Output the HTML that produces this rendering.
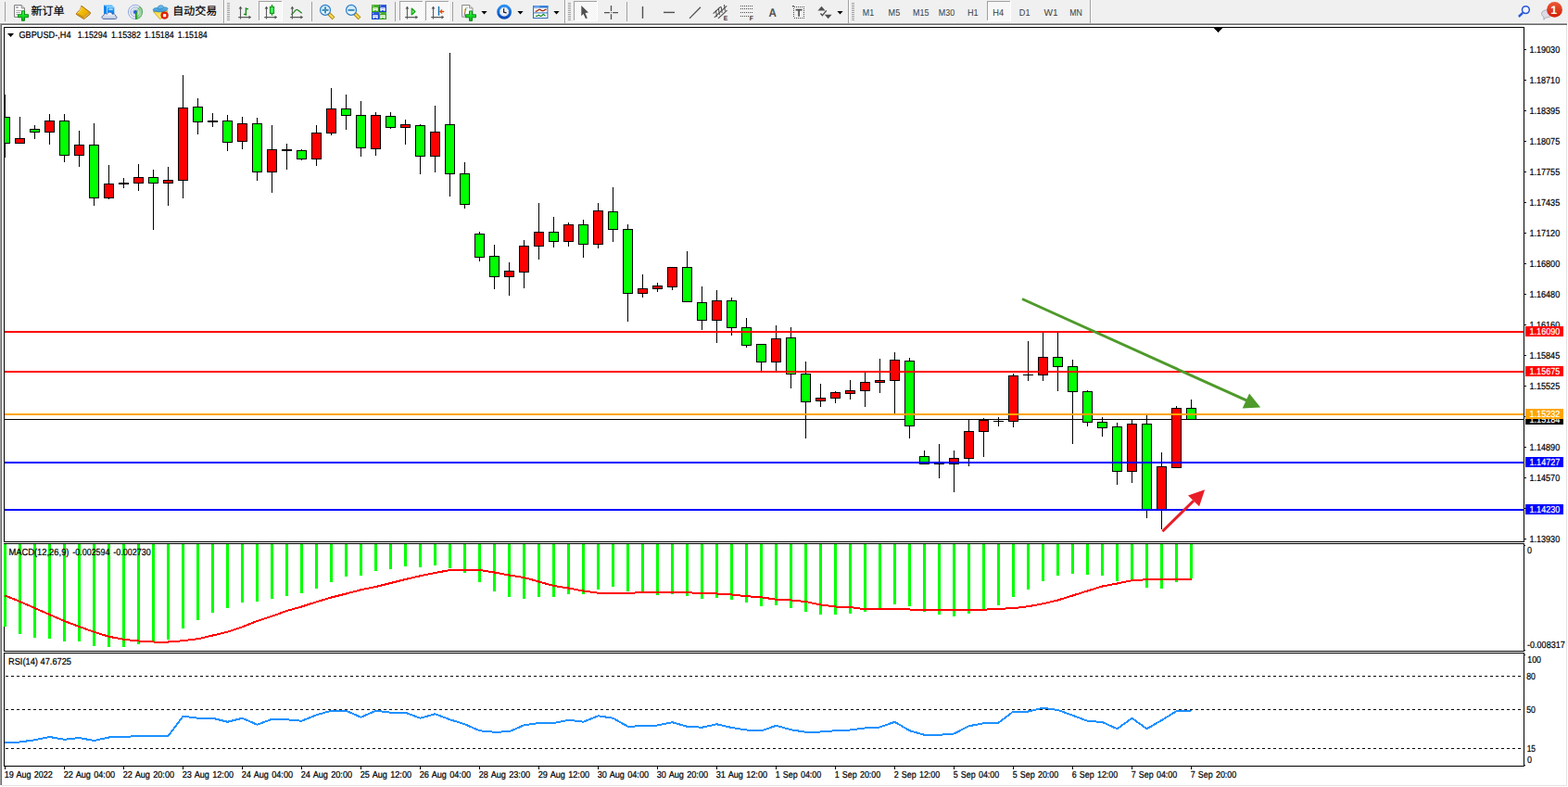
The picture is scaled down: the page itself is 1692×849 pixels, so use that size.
<!DOCTYPE html>
<html><head><meta charset="utf-8"><title>GBPUSD H4</title>
<style>
html,body{margin:0;padding:0;background:#fff;}
body{width:1692px;height:849px;overflow:hidden;font-family:"Liberation Sans",sans-serif;}
svg{display:block;position:absolute;left:0;top:0;}
</style></head><body>
<svg width="1692" height="849" viewBox="0 0 1692 849" text-rendering="geometricPrecision">
<g shape-rendering="crispEdges">
<rect x="0" y="0" width="1692" height="849" fill="#ffffff"/>
<rect x="0" y="0" width="1692" height="25" fill="#f0f0f0"/>
<rect x="0" y="24" width="1692" height="1" fill="#f7f7f7"/>
<rect x="0" y="25" width="1691" height="1" fill="#a0a0a0"/>
<rect x="0" y="26" width="1691" height="1" fill="#696969"/>
<rect x="0" y="25" width="1" height="822" fill="#a0a0a0"/>
<rect x="1" y="26" width="1" height="821" fill="#696969"/>
<rect x="1690" y="27" width="1" height="821" fill="#e3e3e3"/>
<rect x="2" y="847" width="1689" height="1" fill="#e3e3e3"/>
<rect x="4" y="29" width="1641" height="1" fill="#000"/>
<rect x="4" y="584" width="1641" height="1" fill="#000"/>
<rect x="4" y="29" width="1" height="556" fill="#000"/>
<rect x="1644" y="29" width="1" height="556" fill="#000"/>
<rect x="4" y="586" width="1641" height="1" fill="#000"/>
<rect x="4" y="702" width="1641" height="1" fill="#000"/>
<rect x="4" y="586" width="1" height="117" fill="#000"/>
<rect x="1644" y="586" width="1" height="117" fill="#000"/>
<rect x="4" y="704" width="1641" height="1" fill="#000"/>
<rect x="4" y="826" width="1641" height="1" fill="#000"/>
<rect x="4" y="704" width="1" height="123" fill="#000"/>
<rect x="1644" y="704" width="1" height="123" fill="#000"/>
</g>
<g shape-rendering="crispEdges">
<clipPath id="cm"><rect x="5" y="30" width="1639" height="554"/></clipPath>
<g clip-path="url(#cm)">
<rect x="5" y="452" width="1639" height="1" fill="#000"/>
<rect x="5" y="102" width="1" height="68" fill="#000"/>
<rect x="0" y="126" width="11" height="29" fill="#000"/>
<rect x="1" y="127" width="9" height="27" fill="#00ff00"/>
<rect x="21" y="126" width="1" height="29" fill="#000"/>
<rect x="16" y="149" width="11" height="6" fill="#000"/>
<rect x="17" y="150" width="9" height="4" fill="#ff0000"/>
<rect x="37" y="135" width="1" height="15" fill="#000"/>
<rect x="32" y="139" width="11" height="4" fill="#000"/>
<rect x="33" y="140" width="9" height="2" fill="#00ff00"/>
<rect x="53" y="123" width="1" height="33" fill="#000"/>
<rect x="48" y="130" width="11" height="13" fill="#000"/>
<rect x="49" y="131" width="9" height="11" fill="#ff0000"/>
<rect x="69" y="123" width="1" height="52" fill="#000"/>
<rect x="64" y="130" width="11" height="38" fill="#000"/>
<rect x="65" y="131" width="9" height="36" fill="#00ff00"/>
<rect x="85" y="141" width="1" height="39" fill="#000"/>
<rect x="80" y="156" width="11" height="12" fill="#000"/>
<rect x="81" y="157" width="9" height="10" fill="#ff0000"/>
<rect x="101" y="133" width="1" height="89" fill="#000"/>
<rect x="96" y="156" width="11" height="58" fill="#000"/>
<rect x="97" y="157" width="9" height="56" fill="#00ff00"/>
<rect x="117" y="178" width="1" height="37" fill="#000"/>
<rect x="112" y="198" width="11" height="16" fill="#000"/>
<rect x="113" y="199" width="9" height="14" fill="#ff0000"/>
<rect x="133" y="192" width="1" height="11" fill="#000"/>
<rect x="128" y="197" width="11" height="2" fill="#000"/>
<rect x="149" y="177" width="1" height="29" fill="#000"/>
<rect x="144" y="191" width="11" height="7" fill="#000"/>
<rect x="145" y="192" width="9" height="5" fill="#ff0000"/>
<rect x="165" y="183" width="1" height="65" fill="#000"/>
<rect x="160" y="191" width="11" height="7" fill="#000"/>
<rect x="161" y="192" width="9" height="5" fill="#00ff00"/>
<rect x="181" y="180" width="1" height="42" fill="#000"/>
<rect x="176" y="194" width="11" height="4" fill="#000"/>
<rect x="177" y="195" width="9" height="2" fill="#ff0000"/>
<rect x="197" y="81" width="1" height="133" fill="#000"/>
<rect x="192" y="116" width="11" height="79" fill="#000"/>
<rect x="193" y="117" width="9" height="77" fill="#ff0000"/>
<rect x="213" y="106" width="1" height="39" fill="#000"/>
<rect x="208" y="115" width="11" height="17" fill="#000"/>
<rect x="209" y="116" width="9" height="15" fill="#00ff00"/>
<rect x="229" y="122" width="1" height="15" fill="#000"/>
<rect x="224" y="130" width="11" height="2" fill="#000"/>
<rect x="245" y="124" width="1" height="39" fill="#000"/>
<rect x="240" y="130" width="11" height="24" fill="#000"/>
<rect x="241" y="131" width="9" height="22" fill="#00ff00"/>
<rect x="261" y="126" width="1" height="35" fill="#000"/>
<rect x="256" y="133" width="11" height="20" fill="#000"/>
<rect x="257" y="134" width="9" height="18" fill="#ff0000"/>
<rect x="277" y="127" width="1" height="68" fill="#000"/>
<rect x="272" y="133" width="11" height="53" fill="#000"/>
<rect x="273" y="134" width="9" height="51" fill="#00ff00"/>
<rect x="293" y="135" width="1" height="73" fill="#000"/>
<rect x="288" y="161" width="11" height="25" fill="#000"/>
<rect x="289" y="162" width="9" height="23" fill="#ff0000"/>
<rect x="309" y="155" width="1" height="28" fill="#000"/>
<rect x="304" y="161" width="11" height="2" fill="#000"/>
<rect x="325" y="161" width="1" height="12" fill="#000"/>
<rect x="320" y="162" width="11" height="10" fill="#000"/>
<rect x="321" y="163" width="9" height="8" fill="#00ff00"/>
<rect x="341" y="135" width="1" height="44" fill="#000"/>
<rect x="336" y="143" width="11" height="29" fill="#000"/>
<rect x="337" y="144" width="9" height="27" fill="#ff0000"/>
<rect x="357" y="95" width="1" height="51" fill="#000"/>
<rect x="352" y="117" width="11" height="27" fill="#000"/>
<rect x="353" y="118" width="9" height="25" fill="#ff0000"/>
<rect x="373" y="102" width="1" height="38" fill="#000"/>
<rect x="368" y="117" width="11" height="8" fill="#000"/>
<rect x="369" y="118" width="9" height="6" fill="#00ff00"/>
<rect x="389" y="109" width="1" height="60" fill="#000"/>
<rect x="384" y="124" width="11" height="36" fill="#000"/>
<rect x="385" y="125" width="9" height="34" fill="#00ff00"/>
<rect x="405" y="121" width="1" height="47" fill="#000"/>
<rect x="400" y="124" width="11" height="37" fill="#000"/>
<rect x="401" y="125" width="9" height="35" fill="#ff0000"/>
<rect x="421" y="121" width="1" height="18" fill="#000"/>
<rect x="416" y="125" width="11" height="13" fill="#000"/>
<rect x="417" y="126" width="9" height="11" fill="#00ff00"/>
<rect x="437" y="129" width="1" height="27" fill="#000"/>
<rect x="432" y="134" width="11" height="4" fill="#000"/>
<rect x="433" y="135" width="9" height="2" fill="#ff0000"/>
<rect x="453" y="134" width="1" height="54" fill="#000"/>
<rect x="448" y="135" width="11" height="34" fill="#000"/>
<rect x="449" y="136" width="9" height="32" fill="#00ff00"/>
<rect x="469" y="114" width="1" height="72" fill="#000"/>
<rect x="464" y="142" width="11" height="27" fill="#000"/>
<rect x="465" y="143" width="9" height="25" fill="#ff0000"/>
<rect x="485" y="57" width="1" height="155" fill="#000"/>
<rect x="480" y="134" width="11" height="54" fill="#000"/>
<rect x="481" y="135" width="9" height="52" fill="#00ff00"/>
<rect x="501" y="175" width="1" height="50" fill="#000"/>
<rect x="496" y="187" width="11" height="34" fill="#000"/>
<rect x="497" y="188" width="9" height="32" fill="#00ff00"/>
<rect x="517" y="250" width="1" height="32" fill="#000"/>
<rect x="512" y="252" width="11" height="26" fill="#000"/>
<rect x="513" y="253" width="9" height="24" fill="#00ff00"/>
<rect x="533" y="264" width="1" height="48" fill="#000"/>
<rect x="528" y="276" width="11" height="23" fill="#000"/>
<rect x="529" y="277" width="9" height="21" fill="#00ff00"/>
<rect x="549" y="283" width="1" height="36" fill="#000"/>
<rect x="544" y="292" width="11" height="7" fill="#000"/>
<rect x="545" y="293" width="9" height="5" fill="#ff0000"/>
<rect x="565" y="259" width="1" height="52" fill="#000"/>
<rect x="560" y="265" width="11" height="29" fill="#000"/>
<rect x="561" y="266" width="9" height="27" fill="#ff0000"/>
<rect x="581" y="219" width="1" height="61" fill="#000"/>
<rect x="576" y="250" width="11" height="16" fill="#000"/>
<rect x="577" y="251" width="9" height="14" fill="#ff0000"/>
<rect x="597" y="234" width="1" height="33" fill="#000"/>
<rect x="592" y="250" width="11" height="11" fill="#000"/>
<rect x="593" y="251" width="9" height="9" fill="#00ff00"/>
<rect x="613" y="240" width="1" height="26" fill="#000"/>
<rect x="608" y="242" width="11" height="19" fill="#000"/>
<rect x="609" y="243" width="9" height="17" fill="#ff0000"/>
<rect x="629" y="237" width="1" height="41" fill="#000"/>
<rect x="624" y="242" width="11" height="22" fill="#000"/>
<rect x="625" y="243" width="9" height="20" fill="#00ff00"/>
<rect x="645" y="219" width="1" height="49" fill="#000"/>
<rect x="640" y="227" width="11" height="37" fill="#000"/>
<rect x="641" y="228" width="9" height="35" fill="#ff0000"/>
<rect x="661" y="202" width="1" height="59" fill="#000"/>
<rect x="656" y="228" width="11" height="20" fill="#000"/>
<rect x="657" y="229" width="9" height="18" fill="#00ff00"/>
<rect x="677" y="242" width="1" height="105" fill="#000"/>
<rect x="672" y="247" width="11" height="70" fill="#000"/>
<rect x="673" y="248" width="9" height="68" fill="#00ff00"/>
<rect x="693" y="296" width="1" height="25" fill="#000"/>
<rect x="688" y="311" width="11" height="6" fill="#000"/>
<rect x="689" y="312" width="9" height="4" fill="#ff0000"/>
<rect x="709" y="305" width="1" height="10" fill="#000"/>
<rect x="704" y="308" width="11" height="4" fill="#000"/>
<rect x="705" y="309" width="9" height="2" fill="#ff0000"/>
<rect x="725" y="288" width="1" height="25" fill="#000"/>
<rect x="720" y="288" width="11" height="22" fill="#000"/>
<rect x="721" y="289" width="9" height="20" fill="#ff0000"/>
<rect x="741" y="271" width="1" height="55" fill="#000"/>
<rect x="736" y="288" width="11" height="38" fill="#000"/>
<rect x="737" y="289" width="9" height="36" fill="#00ff00"/>
<rect x="757" y="309" width="1" height="47" fill="#000"/>
<rect x="752" y="326" width="11" height="20" fill="#000"/>
<rect x="753" y="327" width="9" height="18" fill="#00ff00"/>
<rect x="773" y="313" width="1" height="57" fill="#000"/>
<rect x="768" y="324" width="11" height="22" fill="#000"/>
<rect x="769" y="325" width="9" height="20" fill="#ff0000"/>
<rect x="789" y="321" width="1" height="41" fill="#000"/>
<rect x="784" y="324" width="11" height="30" fill="#000"/>
<rect x="785" y="325" width="9" height="28" fill="#00ff00"/>
<rect x="805" y="343" width="1" height="32" fill="#000"/>
<rect x="800" y="353" width="11" height="20" fill="#000"/>
<rect x="801" y="354" width="9" height="18" fill="#00ff00"/>
<rect x="821" y="371" width="1" height="29" fill="#000"/>
<rect x="816" y="371" width="11" height="20" fill="#000"/>
<rect x="817" y="372" width="9" height="18" fill="#00ff00"/>
<rect x="837" y="351" width="1" height="49" fill="#000"/>
<rect x="832" y="365" width="11" height="26" fill="#000"/>
<rect x="833" y="366" width="9" height="24" fill="#ff0000"/>
<rect x="853" y="353" width="1" height="66" fill="#000"/>
<rect x="848" y="364" width="11" height="40" fill="#000"/>
<rect x="849" y="365" width="9" height="38" fill="#00ff00"/>
<rect x="869" y="390" width="1" height="83" fill="#000"/>
<rect x="864" y="403" width="11" height="31" fill="#000"/>
<rect x="865" y="404" width="9" height="29" fill="#00ff00"/>
<rect x="885" y="414" width="1" height="25" fill="#000"/>
<rect x="880" y="429" width="11" height="4" fill="#000"/>
<rect x="881" y="430" width="9" height="2" fill="#ff0000"/>
<rect x="901" y="422" width="1" height="13" fill="#000"/>
<rect x="896" y="423" width="11" height="7" fill="#000"/>
<rect x="897" y="424" width="9" height="5" fill="#ff0000"/>
<rect x="917" y="410" width="1" height="21" fill="#000"/>
<rect x="912" y="421" width="11" height="4" fill="#000"/>
<rect x="913" y="422" width="9" height="2" fill="#ff0000"/>
<rect x="933" y="402" width="1" height="37" fill="#000"/>
<rect x="928" y="412" width="11" height="10" fill="#000"/>
<rect x="929" y="413" width="9" height="8" fill="#ff0000"/>
<rect x="949" y="387" width="1" height="37" fill="#000"/>
<rect x="944" y="410" width="11" height="3" fill="#000"/>
<rect x="945" y="411" width="9" height="1" fill="#ff0000"/>
<rect x="965" y="380" width="1" height="66" fill="#000"/>
<rect x="960" y="388" width="11" height="23" fill="#000"/>
<rect x="961" y="389" width="9" height="21" fill="#ff0000"/>
<rect x="981" y="386" width="1" height="87" fill="#000"/>
<rect x="976" y="389" width="11" height="71" fill="#000"/>
<rect x="977" y="390" width="9" height="69" fill="#00ff00"/>
<rect x="997" y="486" width="1" height="15" fill="#000"/>
<rect x="992" y="492" width="11" height="9" fill="#000"/>
<rect x="993" y="493" width="9" height="7" fill="#00ff00"/>
<rect x="1013" y="479" width="1" height="37" fill="#000"/>
<rect x="1008" y="500" width="11" height="1" fill="#000"/>
<rect x="1029" y="486" width="1" height="45" fill="#000"/>
<rect x="1024" y="494" width="11" height="7" fill="#000"/>
<rect x="1025" y="495" width="9" height="5" fill="#ff0000"/>
<rect x="1045" y="453" width="1" height="50" fill="#000"/>
<rect x="1040" y="465" width="11" height="30" fill="#000"/>
<rect x="1041" y="466" width="9" height="28" fill="#ff0000"/>
<rect x="1061" y="451" width="1" height="42" fill="#000"/>
<rect x="1056" y="453" width="11" height="13" fill="#000"/>
<rect x="1057" y="454" width="9" height="11" fill="#ff0000"/>
<rect x="1077" y="450" width="1" height="10" fill="#000"/>
<rect x="1072" y="454" width="11" height="1" fill="#000"/>
<rect x="1093" y="403" width="1" height="58" fill="#000"/>
<rect x="1088" y="405" width="11" height="50" fill="#000"/>
<rect x="1089" y="406" width="9" height="48" fill="#ff0000"/>
<rect x="1109" y="368" width="1" height="43" fill="#000"/>
<rect x="1104" y="404" width="11" height="1" fill="#000"/>
<rect x="1125" y="359" width="1" height="52" fill="#000"/>
<rect x="1120" y="385" width="11" height="20" fill="#000"/>
<rect x="1121" y="386" width="9" height="18" fill="#ff0000"/>
<rect x="1141" y="359" width="1" height="63" fill="#000"/>
<rect x="1136" y="385" width="11" height="11" fill="#000"/>
<rect x="1137" y="386" width="9" height="9" fill="#00ff00"/>
<rect x="1157" y="388" width="1" height="91" fill="#000"/>
<rect x="1152" y="395" width="11" height="28" fill="#000"/>
<rect x="1153" y="396" width="9" height="26" fill="#00ff00"/>
<rect x="1173" y="421" width="1" height="39" fill="#000"/>
<rect x="1168" y="422" width="11" height="34" fill="#000"/>
<rect x="1169" y="423" width="9" height="32" fill="#00ff00"/>
<rect x="1189" y="450" width="1" height="21" fill="#000"/>
<rect x="1184" y="455" width="11" height="7" fill="#000"/>
<rect x="1185" y="456" width="9" height="5" fill="#00ff00"/>
<rect x="1205" y="456" width="1" height="67" fill="#000"/>
<rect x="1200" y="460" width="11" height="49" fill="#000"/>
<rect x="1201" y="461" width="9" height="47" fill="#00ff00"/>
<rect x="1221" y="452" width="1" height="69" fill="#000"/>
<rect x="1216" y="457" width="11" height="52" fill="#000"/>
<rect x="1217" y="458" width="9" height="50" fill="#ff0000"/>
<rect x="1237" y="447" width="1" height="112" fill="#000"/>
<rect x="1232" y="457" width="11" height="93" fill="#000"/>
<rect x="1233" y="458" width="9" height="91" fill="#00ff00"/>
<rect x="1253" y="488" width="1" height="83" fill="#000"/>
<rect x="1248" y="503" width="11" height="47" fill="#000"/>
<rect x="1249" y="504" width="9" height="45" fill="#ff0000"/>
<rect x="1269" y="438" width="1" height="67" fill="#000"/>
<rect x="1264" y="440" width="11" height="65" fill="#000"/>
<rect x="1265" y="441" width="9" height="63" fill="#ff0000"/>
<rect x="1285" y="431" width="1" height="22" fill="#000"/>
<rect x="1280" y="440" width="11" height="13" fill="#000"/>
<rect x="1281" y="441" width="9" height="11" fill="#00ff00"/>
<rect x="5" y="357" width="1639" height="2" fill="#ff0000"/>
<rect x="5" y="400" width="1639" height="2" fill="#ff0000"/>
<rect x="5" y="446" width="1639" height="2" fill="#ffa500"/>
<rect x="5" y="498" width="1639" height="2" fill="#0000ff"/>
<rect x="5" y="549" width="1639" height="2" fill="#0000ff"/>
</g>
<path d="M1310 30H1319L1314.5 35Z" fill="#000"/>
</g>
<line x1="1103" y1="322.5" x2="1345.5" y2="432.2" stroke="#4e9a2a" stroke-width="3"/>
<path d="M1360.2 439.4L1348.1 424.4L1340.7 440.4Z" fill="#4e9a2a"/>
<line x1="1254.4" y1="573.2" x2="1288" y2="540.2" stroke="#e81e28" stroke-width="3"/>
<path d="M1300.1 528.2L1282 534.6L1294.1 546.2Z" fill="#e81e28"/>
<g shape-rendering="crispEdges">
<rect x="4" y="587" width="3" height="89" fill="#00ff00"/>
<rect x="20" y="587" width="3" height="97" fill="#00ff00"/>
<rect x="36" y="587" width="3" height="101" fill="#00ff00"/>
<rect x="52" y="587" width="3" height="102" fill="#00ff00"/>
<rect x="68" y="587" width="3" height="105" fill="#00ff00"/>
<rect x="84" y="587" width="3" height="105" fill="#00ff00"/>
<rect x="100" y="587" width="3" height="110" fill="#00ff00"/>
<rect x="116" y="587" width="3" height="111" fill="#00ff00"/>
<rect x="132" y="587" width="3" height="111" fill="#00ff00"/>
<rect x="148" y="587" width="3" height="108" fill="#00ff00"/>
<rect x="164" y="587" width="3" height="105" fill="#00ff00"/>
<rect x="180" y="587" width="3" height="103" fill="#00ff00"/>
<rect x="196" y="587" width="3" height="91" fill="#00ff00"/>
<rect x="212" y="587" width="3" height="82" fill="#00ff00"/>
<rect x="228" y="587" width="3" height="74" fill="#00ff00"/>
<rect x="244" y="587" width="3" height="69" fill="#00ff00"/>
<rect x="260" y="587" width="3" height="63" fill="#00ff00"/>
<rect x="276" y="587" width="3" height="62" fill="#00ff00"/>
<rect x="292" y="587" width="3" height="59" fill="#00ff00"/>
<rect x="308" y="587" width="3" height="56" fill="#00ff00"/>
<rect x="324" y="587" width="3" height="53" fill="#00ff00"/>
<rect x="340" y="587" width="3" height="48" fill="#00ff00"/>
<rect x="356" y="587" width="3" height="41" fill="#00ff00"/>
<rect x="372" y="587" width="3" height="35" fill="#00ff00"/>
<rect x="388" y="587" width="3" height="34" fill="#00ff00"/>
<rect x="404" y="587" width="3" height="29" fill="#00ff00"/>
<rect x="420" y="587" width="3" height="27" fill="#00ff00"/>
<rect x="436" y="587" width="3" height="24" fill="#00ff00"/>
<rect x="452" y="587" width="3" height="25" fill="#00ff00"/>
<rect x="468" y="587" width="3" height="23" fill="#00ff00"/>
<rect x="484" y="587" width="3" height="26" fill="#00ff00"/>
<rect x="500" y="587" width="3" height="31" fill="#00ff00"/>
<rect x="516" y="587" width="3" height="41" fill="#00ff00"/>
<rect x="532" y="587" width="3" height="51" fill="#00ff00"/>
<rect x="548" y="587" width="3" height="57" fill="#00ff00"/>
<rect x="564" y="587" width="3" height="59" fill="#00ff00"/>
<rect x="580" y="587" width="3" height="57" fill="#00ff00"/>
<rect x="596" y="587" width="3" height="57" fill="#00ff00"/>
<rect x="612" y="587" width="3" height="54" fill="#00ff00"/>
<rect x="628" y="587" width="3" height="54" fill="#00ff00"/>
<rect x="644" y="587" width="3" height="49" fill="#00ff00"/>
<rect x="660" y="587" width="3" height="46" fill="#00ff00"/>
<rect x="676" y="587" width="3" height="51" fill="#00ff00"/>
<rect x="692" y="587" width="3" height="53" fill="#00ff00"/>
<rect x="708" y="587" width="3" height="55" fill="#00ff00"/>
<rect x="724" y="587" width="3" height="54" fill="#00ff00"/>
<rect x="740" y="587" width="3" height="56" fill="#00ff00"/>
<rect x="756" y="587" width="3" height="59" fill="#00ff00"/>
<rect x="772" y="587" width="3" height="58" fill="#00ff00"/>
<rect x="788" y="587" width="3" height="60" fill="#00ff00"/>
<rect x="804" y="587" width="3" height="63" fill="#00ff00"/>
<rect x="820" y="587" width="3" height="67" fill="#00ff00"/>
<rect x="836" y="587" width="3" height="66" fill="#00ff00"/>
<rect x="852" y="587" width="3" height="69" fill="#00ff00"/>
<rect x="868" y="587" width="3" height="73" fill="#00ff00"/>
<rect x="884" y="587" width="3" height="76" fill="#00ff00"/>
<rect x="900" y="587" width="3" height="76" fill="#00ff00"/>
<rect x="916" y="587" width="3" height="75" fill="#00ff00"/>
<rect x="932" y="587" width="3" height="73" fill="#00ff00"/>
<rect x="948" y="587" width="3" height="70" fill="#00ff00"/>
<rect x="964" y="587" width="3" height="65" fill="#00ff00"/>
<rect x="980" y="587" width="3" height="67" fill="#00ff00"/>
<rect x="996" y="587" width="3" height="73" fill="#00ff00"/>
<rect x="1012" y="587" width="3" height="76" fill="#00ff00"/>
<rect x="1028" y="587" width="3" height="78" fill="#00ff00"/>
<rect x="1044" y="587" width="3" height="75" fill="#00ff00"/>
<rect x="1060" y="587" width="3" height="70" fill="#00ff00"/>
<rect x="1076" y="587" width="3" height="66" fill="#00ff00"/>
<rect x="1092" y="587" width="3" height="57" fill="#00ff00"/>
<rect x="1108" y="587" width="3" height="49" fill="#00ff00"/>
<rect x="1124" y="587" width="3" height="40" fill="#00ff00"/>
<rect x="1140" y="587" width="3" height="34" fill="#00ff00"/>
<rect x="1156" y="587" width="3" height="32" fill="#00ff00"/>
<rect x="1172" y="587" width="3" height="33" fill="#00ff00"/>
<rect x="1188" y="587" width="3" height="34" fill="#00ff00"/>
<rect x="1204" y="587" width="3" height="40" fill="#00ff00"/>
<rect x="1220" y="587" width="3" height="38" fill="#00ff00"/>
<rect x="1236" y="587" width="3" height="47" fill="#00ff00"/>
<rect x="1252" y="587" width="3" height="48" fill="#00ff00"/>
<rect x="1268" y="587" width="3" height="41" fill="#00ff00"/>
<rect x="1284" y="587" width="3" height="37" fill="#00ff00"/>
</g>
<polyline points="5.5,642.5 21.5,649 37.5,656 53.5,663 69.5,670 85.5,676 101.5,681.75 117.5,686.75 133.5,689.75 149.5,691.5 165.5,692.5 181.5,692.5 197.5,691.25 213.5,689.25 229.5,685.5 245.5,681.75 261.5,676.25 277.5,670 293.5,664.75 309.5,659 325.5,654.5 341.5,649.25 357.5,644.5 373.5,640.5 389.5,636.25 405.5,633 421.5,629 437.5,625 453.5,621.25 469.5,618 485.5,615 501.5,615 517.5,615 533.5,617.5 549.5,620.5 565.5,623 581.5,627.5 597.5,632 613.5,634.5 629.5,637.5 645.5,639.75 661.5,639.75 677.5,639.75 693.5,639.25 709.5,639.25 725.5,639.25 741.5,639.25 757.5,640 773.5,640.5 789.5,641.5 805.5,643.25 821.5,644.25 837.5,646.75 853.5,647.5 869.5,649 885.5,652.5 901.5,654.5 917.5,655 933.5,657.25 949.5,657.25 965.5,656.75 981.5,657.5 997.5,657.75 1013.5,657.75 1029.5,657.75 1045.5,657.75 1061.5,657.75 1077.5,656.75 1093.5,656.25 1109.5,654.25 1125.5,651.25 1141.5,647.5 1157.5,642.5 1173.5,637.5 1189.5,632.5 1205.5,629.5 1221.5,626.25 1237.5,625.25 1253.5,625.25 1269.5,625.25 1285.5,625.25" fill="none" stroke="#ff0000" stroke-width="2" stroke-linejoin="round" shape-rendering="crispEdges"/>
<g shape-rendering="crispEdges">
<line x1="6" y1="729.5" x2="1644" y2="729.5" stroke="#000" stroke-width="1" stroke-dasharray="3 3"/>
<line x1="6" y1="765.5" x2="1644" y2="765.5" stroke="#000" stroke-width="1" stroke-dasharray="3 3"/>
<line x1="6" y1="807.5" x2="1644" y2="807.5" stroke="#000" stroke-width="1" stroke-dasharray="3 3"/>
</g>
<polyline points="5.5,801 21.5,800.5 37.5,798.25 53.5,795 69.5,797.75 85.5,796 101.5,799 117.5,795.5 133.5,795 149.5,794 165.5,794 181.5,794 197.5,772.75 213.5,774.75 229.5,774.75 245.5,778.75 261.5,774.75 277.5,781.75 293.5,775.75 309.5,776.25 325.5,777.75 341.5,771.25 357.5,766.75 373.5,766.75 389.5,773.75 405.5,766.75 421.5,768.75 437.5,768.75 453.5,774.75 469.5,770.25 485.5,776.25 501.5,781.25 517.5,788.25 533.5,789.75 549.5,789.25 565.5,782.25 581.5,780 597.5,780 613.5,776.75 629.5,778.75 645.5,772.25 661.5,774.75 677.5,783.75 693.5,783.25 709.5,782.5 725.5,779.25 741.5,783.75 757.5,784.75 773.5,781.25 789.5,785 805.5,787.5 821.5,788.5 837.5,782.75 853.5,787.25 869.5,789.75 885.5,789.5 901.5,788.25 917.5,787.5 933.5,785.5 949.5,784.5 965.5,778.75 981.5,788.25 997.5,792.75 1013.5,792.75 1029.5,791.5 1045.5,783.25 1061.5,780.25 1077.5,779.75 1093.5,767.5 1109.5,767.5 1125.5,763.75 1141.5,766 1157.5,771.75 1173.5,777.75 1189.5,779 1205.5,786.25 1221.5,774.75 1237.5,786.25 1253.5,777 1269.5,767.25 1285.5,767.5" fill="none" stroke="#1e90ff" stroke-width="2" stroke-linejoin="round" shape-rendering="crispEdges"/>
<g shape-rendering="crispEdges">
<rect x="1645" y="53" width="2" height="1" fill="#000"/>
<rect x="1645" y="86" width="2" height="1" fill="#000"/>
<rect x="1645" y="119" width="2" height="1" fill="#000"/>
<rect x="1645" y="152" width="2" height="1" fill="#000"/>
<rect x="1645" y="185" width="2" height="1" fill="#000"/>
<rect x="1645" y="218" width="2" height="1" fill="#000"/>
<rect x="1645" y="251" width="2" height="1" fill="#000"/>
<rect x="1645" y="284" width="2" height="1" fill="#000"/>
<rect x="1645" y="317" width="2" height="1" fill="#000"/>
<rect x="1645" y="350" width="2" height="1" fill="#000"/>
<rect x="1645" y="383" width="2" height="1" fill="#000"/>
<rect x="1645" y="416" width="2" height="1" fill="#000"/>
<rect x="1645" y="449" width="2" height="1" fill="#000"/>
<rect x="1645" y="482" width="2" height="1" fill="#000"/>
<rect x="1645" y="515" width="2" height="1" fill="#000"/>
<rect x="1645" y="548" width="2" height="1" fill="#000"/>
<rect x="1645" y="581" width="2" height="1" fill="#000"/>
<rect x="5" y="827" width="1" height="3" fill="#000"/>
<rect x="69" y="827" width="1" height="3" fill="#000"/>
<rect x="133" y="827" width="1" height="3" fill="#000"/>
<rect x="197" y="827" width="1" height="3" fill="#000"/>
<rect x="261" y="827" width="1" height="3" fill="#000"/>
<rect x="325" y="827" width="1" height="3" fill="#000"/>
<rect x="389" y="827" width="1" height="3" fill="#000"/>
<rect x="453" y="827" width="1" height="3" fill="#000"/>
<rect x="517" y="827" width="1" height="3" fill="#000"/>
<rect x="581" y="827" width="1" height="3" fill="#000"/>
<rect x="645" y="827" width="1" height="3" fill="#000"/>
<rect x="709" y="827" width="1" height="3" fill="#000"/>
<rect x="773" y="827" width="1" height="3" fill="#000"/>
<rect x="837" y="827" width="1" height="3" fill="#000"/>
<rect x="901" y="827" width="1" height="3" fill="#000"/>
<rect x="965" y="827" width="1" height="3" fill="#000"/>
<rect x="1029" y="827" width="1" height="3" fill="#000"/>
<rect x="1093" y="827" width="1" height="3" fill="#000"/>
<rect x="1157" y="827" width="1" height="3" fill="#000"/>
<rect x="1221" y="827" width="1" height="3" fill="#000"/>
<rect x="1285" y="827" width="1" height="3" fill="#000"/>
<rect x="1645" y="825" width="1" height="1" fill="#000"/>
<rect x="1645" y="588" width="1" height="1" fill="#000"/>
<rect x="1645" y="701" width="1" height="1" fill="#000"/>
<rect x="1645" y="706" width="1" height="1" fill="#000"/>
</g>
<g font-family="Liberation Sans, sans-serif">
<text x="1650.4" y="57" font-size="10.2" fill="#000" stroke="#000" stroke-width="0.22" text-anchor="start" textLength="32.8" lengthAdjust="spacingAndGlyphs">1.19030</text>
<text x="1650.4" y="90" font-size="10.2" fill="#000" stroke="#000" stroke-width="0.22" text-anchor="start" textLength="32.8" lengthAdjust="spacingAndGlyphs">1.18710</text>
<text x="1650.4" y="123" font-size="10.2" fill="#000" stroke="#000" stroke-width="0.22" text-anchor="start" textLength="32.8" lengthAdjust="spacingAndGlyphs">1.18395</text>
<text x="1650.4" y="156" font-size="10.2" fill="#000" stroke="#000" stroke-width="0.22" text-anchor="start" textLength="32.8" lengthAdjust="spacingAndGlyphs">1.18075</text>
<text x="1650.4" y="189" font-size="10.2" fill="#000" stroke="#000" stroke-width="0.22" text-anchor="start" textLength="32.8" lengthAdjust="spacingAndGlyphs">1.17755</text>
<text x="1650.4" y="222" font-size="10.2" fill="#000" stroke="#000" stroke-width="0.22" text-anchor="start" textLength="32.8" lengthAdjust="spacingAndGlyphs">1.17435</text>
<text x="1650.4" y="255" font-size="10.2" fill="#000" stroke="#000" stroke-width="0.22" text-anchor="start" textLength="32.8" lengthAdjust="spacingAndGlyphs">1.17120</text>
<text x="1650.4" y="288" font-size="10.2" fill="#000" stroke="#000" stroke-width="0.22" text-anchor="start" textLength="32.8" lengthAdjust="spacingAndGlyphs">1.16800</text>
<text x="1650.4" y="321" font-size="10.2" fill="#000" stroke="#000" stroke-width="0.22" text-anchor="start" textLength="32.8" lengthAdjust="spacingAndGlyphs">1.16480</text>
<text x="1650.4" y="354" font-size="10.2" fill="#000" stroke="#000" stroke-width="0.22" text-anchor="start" textLength="32.8" lengthAdjust="spacingAndGlyphs">1.16160</text>
<text x="1650.4" y="387" font-size="10.2" fill="#000" stroke="#000" stroke-width="0.22" text-anchor="start" textLength="32.8" lengthAdjust="spacingAndGlyphs">1.15845</text>
<text x="1650.4" y="420" font-size="10.2" fill="#000" stroke="#000" stroke-width="0.22" text-anchor="start" textLength="32.8" lengthAdjust="spacingAndGlyphs">1.15525</text>
<text x="1650.4" y="453" font-size="10.2" fill="#000" stroke="#000" stroke-width="0.22" text-anchor="start" textLength="32.8" lengthAdjust="spacingAndGlyphs">1.15205</text>
<text x="1650.4" y="486" font-size="10.2" fill="#000" stroke="#000" stroke-width="0.22" text-anchor="start" textLength="32.8" lengthAdjust="spacingAndGlyphs">1.14890</text>
<text x="1650.4" y="519" font-size="10.2" fill="#000" stroke="#000" stroke-width="0.22" text-anchor="start" textLength="32.8" lengthAdjust="spacingAndGlyphs">1.14570</text>
<text x="1650.4" y="552" font-size="10.2" fill="#000" stroke="#000" stroke-width="0.22" text-anchor="start" textLength="32.8" lengthAdjust="spacingAndGlyphs">1.14250</text>
<text x="1650.4" y="585" font-size="10.2" fill="#000" stroke="#000" stroke-width="0.22" text-anchor="start" textLength="32.8" lengthAdjust="spacingAndGlyphs">1.13930</text>
<rect x="1646" y="447" width="41" height="11" fill="#000" shape-rendering="crispEdges"/>
<text x="1650.6" y="456" font-size="10.2" fill="#fff" stroke="#fff" stroke-width="0.22" text-anchor="start" textLength="32.6" lengthAdjust="spacingAndGlyphs">1.15184</text>
<rect x="1646" y="352" width="41" height="11" fill="#ff0000" shape-rendering="crispEdges"/>
<text x="1650.6" y="361" font-size="10.2" fill="#fff" stroke="#fff" stroke-width="0.22" text-anchor="start" textLength="32.6" lengthAdjust="spacingAndGlyphs">1.16090</text>
<rect x="1646" y="395" width="41" height="11" fill="#ff0000" shape-rendering="crispEdges"/>
<text x="1650.6" y="404" font-size="10.2" fill="#fff" stroke="#fff" stroke-width="0.22" text-anchor="start" textLength="32.6" lengthAdjust="spacingAndGlyphs">1.15675</text>
<rect x="1646" y="441" width="41" height="11" fill="#ffa500" shape-rendering="crispEdges"/>
<text x="1650.6" y="450" font-size="10.2" fill="#fff" stroke="#fff" stroke-width="0.22" text-anchor="start" textLength="32.6" lengthAdjust="spacingAndGlyphs">1.15232</text>
<rect x="1646" y="493" width="41" height="11" fill="#0000ff" shape-rendering="crispEdges"/>
<text x="1650.6" y="502" font-size="10.2" fill="#fff" stroke="#fff" stroke-width="0.22" text-anchor="start" textLength="32.6" lengthAdjust="spacingAndGlyphs">1.14727</text>
<rect x="1646" y="544" width="41" height="11" fill="#0000ff" shape-rendering="crispEdges"/>
<text x="1650.6" y="553" font-size="10.2" fill="#fff" stroke="#fff" stroke-width="0.22" text-anchor="start" textLength="32.6" lengthAdjust="spacingAndGlyphs">1.14230</text>
<text x="1648" y="597" font-size="10.2" fill="#000" stroke="#000" stroke-width="0.22" text-anchor="start" textLength="5" lengthAdjust="spacingAndGlyphs">0</text>
<text x="1648" y="699" font-size="10.2" fill="#000" stroke="#000" stroke-width="0.22" text-anchor="start" textLength="40.8" lengthAdjust="spacingAndGlyphs">-0.008317</text>
<text x="1648.3" y="715" font-size="10.2" fill="#000" stroke="#000" stroke-width="0.22" text-anchor="start" textLength="14.7" lengthAdjust="spacingAndGlyphs">100</text>
<text x="1647.2" y="733" font-size="10.2" fill="#000" stroke="#000" stroke-width="0.22" text-anchor="start" textLength="9.7" lengthAdjust="spacingAndGlyphs">80</text>
<text x="1647.2" y="769" font-size="10.2" fill="#000" stroke="#000" stroke-width="0.22" text-anchor="start" textLength="9.7" lengthAdjust="spacingAndGlyphs">50</text>
<text x="1647.7" y="811" font-size="10.2" fill="#000" stroke="#000" stroke-width="0.22" text-anchor="start" textLength="9.3" lengthAdjust="spacingAndGlyphs">15</text>
<text x="1648" y="823" font-size="10.2" fill="#000" stroke="#000" stroke-width="0.22" text-anchor="start" textLength="5" lengthAdjust="spacingAndGlyphs">0</text>
<text x="4.7" y="839" font-size="10.2" fill="#000" stroke="#000" stroke-width="0.22" text-anchor="start" textLength="52.2" lengthAdjust="spacingAndGlyphs" word-spacing="0.8">19 Aug 2022</text>
<text x="68.7" y="839" font-size="10.2" fill="#000" stroke="#000" stroke-width="0.22" text-anchor="start" textLength="55.4" lengthAdjust="spacingAndGlyphs" word-spacing="0.8">22 Aug 04:00</text>
<text x="132.7" y="839" font-size="10.2" fill="#000" stroke="#000" stroke-width="0.22" text-anchor="start" textLength="55.4" lengthAdjust="spacingAndGlyphs" word-spacing="0.8">22 Aug 20:00</text>
<text x="196.7" y="839" font-size="10.2" fill="#000" stroke="#000" stroke-width="0.22" text-anchor="start" textLength="55.4" lengthAdjust="spacingAndGlyphs" word-spacing="0.8">23 Aug 12:00</text>
<text x="260.7" y="839" font-size="10.2" fill="#000" stroke="#000" stroke-width="0.22" text-anchor="start" textLength="55.4" lengthAdjust="spacingAndGlyphs" word-spacing="0.8">24 Aug 04:00</text>
<text x="324.7" y="839" font-size="10.2" fill="#000" stroke="#000" stroke-width="0.22" text-anchor="start" textLength="55.4" lengthAdjust="spacingAndGlyphs" word-spacing="0.8">24 Aug 20:00</text>
<text x="388.7" y="839" font-size="10.2" fill="#000" stroke="#000" stroke-width="0.22" text-anchor="start" textLength="55.4" lengthAdjust="spacingAndGlyphs" word-spacing="0.8">25 Aug 12:00</text>
<text x="452.7" y="839" font-size="10.2" fill="#000" stroke="#000" stroke-width="0.22" text-anchor="start" textLength="55.4" lengthAdjust="spacingAndGlyphs" word-spacing="0.8">26 Aug 04:00</text>
<text x="516.7" y="839" font-size="10.2" fill="#000" stroke="#000" stroke-width="0.22" text-anchor="start" textLength="55.4" lengthAdjust="spacingAndGlyphs" word-spacing="0.8">28 Aug 23:00</text>
<text x="580.7" y="839" font-size="10.2" fill="#000" stroke="#000" stroke-width="0.22" text-anchor="start" textLength="55.4" lengthAdjust="spacingAndGlyphs" word-spacing="0.8">29 Aug 12:00</text>
<text x="644.7" y="839" font-size="10.2" fill="#000" stroke="#000" stroke-width="0.22" text-anchor="start" textLength="55.4" lengthAdjust="spacingAndGlyphs" word-spacing="0.8">30 Aug 04:00</text>
<text x="708.7" y="839" font-size="10.2" fill="#000" stroke="#000" stroke-width="0.22" text-anchor="start" textLength="55.4" lengthAdjust="spacingAndGlyphs" word-spacing="0.8">30 Aug 20:00</text>
<text x="772.7" y="839" font-size="10.2" fill="#000" stroke="#000" stroke-width="0.22" text-anchor="start" textLength="55.4" lengthAdjust="spacingAndGlyphs" word-spacing="0.8">31 Aug 12:00</text>
<text x="836.7" y="839" font-size="10.2" fill="#000" stroke="#000" stroke-width="0.22" text-anchor="start" textLength="49.6" lengthAdjust="spacingAndGlyphs" word-spacing="0.8">1 Sep 04:00</text>
<text x="900.7" y="839" font-size="10.2" fill="#000" stroke="#000" stroke-width="0.22" text-anchor="start" textLength="49.6" lengthAdjust="spacingAndGlyphs" word-spacing="0.8">1 Sep 20:00</text>
<text x="964.7" y="839" font-size="10.2" fill="#000" stroke="#000" stroke-width="0.22" text-anchor="start" textLength="49.6" lengthAdjust="spacingAndGlyphs" word-spacing="0.8">2 Sep 12:00</text>
<text x="1028.7" y="839" font-size="10.2" fill="#000" stroke="#000" stroke-width="0.22" text-anchor="start" textLength="49.6" lengthAdjust="spacingAndGlyphs" word-spacing="0.8">5 Sep 04:00</text>
<text x="1092.7" y="839" font-size="10.2" fill="#000" stroke="#000" stroke-width="0.22" text-anchor="start" textLength="49.6" lengthAdjust="spacingAndGlyphs" word-spacing="0.8">5 Sep 20:00</text>
<text x="1156.7" y="839" font-size="10.2" fill="#000" stroke="#000" stroke-width="0.22" text-anchor="start" textLength="49.6" lengthAdjust="spacingAndGlyphs" word-spacing="0.8">6 Sep 12:00</text>
<text x="1220.7" y="839" font-size="10.2" fill="#000" stroke="#000" stroke-width="0.22" text-anchor="start" textLength="49.6" lengthAdjust="spacingAndGlyphs" word-spacing="0.8">7 Sep 04:00</text>
<text x="1284.7" y="839" font-size="10.2" fill="#000" stroke="#000" stroke-width="0.22" text-anchor="start" textLength="49.6" lengthAdjust="spacingAndGlyphs" word-spacing="0.8">7 Sep 20:00</text>
<path d="M8 36H15L11.5 40Z" fill="#000"/>
<text x="20.5" y="41" font-size="10.2" fill="#000" stroke="#000" stroke-width="0.22" text-anchor="start" textLength="56" lengthAdjust="spacingAndGlyphs">GBPUSD-,H4</text>
<text x="83.7" y="41" font-size="10.2" fill="#000" stroke="#000" stroke-width="0.22" text-anchor="start" textLength="31.9" lengthAdjust="spacingAndGlyphs">1.15294</text>
<text x="119.9" y="41" font-size="10.2" fill="#000" stroke="#000" stroke-width="0.22" text-anchor="start" textLength="31.9" lengthAdjust="spacingAndGlyphs">1.15382</text>
<text x="155.7" y="41" font-size="10.2" fill="#000" stroke="#000" stroke-width="0.22" text-anchor="start" textLength="31.9" lengthAdjust="spacingAndGlyphs">1.15184</text>
<text x="191.8" y="41" font-size="10.2" fill="#000" stroke="#000" stroke-width="0.22" text-anchor="start" textLength="31.9" lengthAdjust="spacingAndGlyphs">1.15184</text>
<text x="9.4" y="599" font-size="10.2" fill="#000" stroke="#000" stroke-width="0.22" text-anchor="start" textLength="65.1" lengthAdjust="spacingAndGlyphs">MACD(12,26,9)</text>
<text x="78.2" y="599" font-size="10.2" fill="#000" stroke="#000" stroke-width="0.22" text-anchor="start" textLength="40.4" lengthAdjust="spacingAndGlyphs">-0.002594</text>
<text x="122.3" y="599" font-size="10.2" fill="#000" stroke="#000" stroke-width="0.22" text-anchor="start" textLength="40.5" lengthAdjust="spacingAndGlyphs">-0.002730</text>
<text x="9" y="717" font-size="10.2" fill="#000" stroke="#000" stroke-width="0.22" text-anchor="start" textLength="68" lengthAdjust="spacingAndGlyphs">RSI(14) 47.6725</text>
</g>
<g opacity="0.999">
<defs>
<pattern id="chk" width="2" height="2" patternUnits="userSpaceOnUse"><rect width="2" height="2" fill="#f0f0f0"/><rect width="1" height="1" fill="#fff"/><rect x="1" y="1" width="1" height="1" fill="#fff"/></pattern>
<linearGradient id="gPlus" x1="0" y1="0" x2="0" y2="1"><stop offset="0" stop-color="#5cf05c"/><stop offset="0.5" stop-color="#14e024"/><stop offset="1" stop-color="#0aa814"/></linearGradient>
<linearGradient id="gGold" x1="0" y1="0" x2="1" y2="1"><stop offset="0" stop-color="#f8d040"/><stop offset="0.5" stop-color="#f0b800"/><stop offset="1" stop-color="#d89010"/></linearGradient>
<linearGradient id="gCloud" x1="0" y1="0" x2="0" y2="1"><stop offset="0" stop-color="#ffffff"/><stop offset="1" stop-color="#b8c4dc"/></linearGradient>
<linearGradient id="gBox" x1="0" y1="0" x2="0" y2="1"><stop offset="0" stop-color="#30a8ff"/><stop offset="1" stop-color="#0878e8"/></linearGradient>
<linearGradient id="gLens" x1="0" y1="0" x2="0" y2="1"><stop offset="0" stop-color="#c8e8fc"/><stop offset="1" stop-color="#eef8ff"/></linearGradient>
<linearGradient id="gHandle" x1="0" y1="0" x2="1" y2="0"><stop offset="0" stop-color="#b88810"/><stop offset="0.5" stop-color="#f8e060"/><stop offset="1" stop-color="#b88810"/></linearGradient>
<linearGradient id="gRed" x1="0" y1="0" x2="0" y2="1"><stop offset="0" stop-color="#ea5a38"/><stop offset="1" stop-color="#d41c08"/></linearGradient>
<linearGradient id="gClock" x1="0" y1="0" x2="0" y2="1"><stop offset="0" stop-color="#2890f8"/><stop offset="1" stop-color="#0848b8"/></linearGradient>
<linearGradient id="gHat" x1="0" y1="0" x2="0" y2="1"><stop offset="0" stop-color="#78c4f0"/><stop offset="1" stop-color="#3898d8"/></linearGradient>
<linearGradient id="gYel" x1="0" y1="0" x2="1" y2="1"><stop offset="0" stop-color="#f8d838"/><stop offset="1" stop-color="#fcf090"/></linearGradient>
<radialGradient id="gSig" cx="0.5" cy="0.5" r="0.5"><stop offset="0" stop-color="#e8f4e0"/><stop offset="1" stop-color="#58b858"/></radialGradient>
<radialGradient id="gStop" cx="0.5" cy="0.5" r="0.5"><stop offset="0" stop-color="#f83808"/><stop offset="0.7" stop-color="#e42404"/><stop offset="1" stop-color="#b81808"/></radialGradient>
</defs>
<rect x="5" y="2" width="1" height="21" fill="#a0a0a0" shape-rendering="crispEdges"/>
<path d="M15.6 5.6H23.2L26.4 8.8V18.4H15.6Z" fill="#fff" stroke="#777" stroke-width="1"/>
<path d="M23.2 5.6V8.8H26.4" fill="#e8e8e8" stroke="#777" stroke-width="0.9"/>
<rect x="17.2" y="7.3" width="2.6" height="1.4" fill="#888"/>
<path d="M17.3 11.4H23M17.3 13.5H21.8M17.3 15.5H20" stroke="#999" stroke-width="0.9"/>
<path d="M23.5 11.8H26.5V15.700000000000001H30.5V18.700000000000003H26.5V22.3H23.5V18.700000000000003H19.5V15.700000000000001H23.5Z" fill="url(#gPlus)" stroke="#0a8a14" stroke-width="1"/>
<text x="33.6" y="16.4" font-family="'Liberation Sans', 'Noto Sans CJK SC', sans-serif" font-size="12" fill="#000" stroke="#000" stroke-width="0.19" textLength="36" lengthAdjust="spacingAndGlyphs">新订单</text>
<path d="M87.9 6.3L97.4 13.4L97.2 15.2L90.6 20.6L82.3 15.4L82.6 14.2L86.5 10.4Z" fill="url(#gGold)" stroke="#a86a08" stroke-width="1" stroke-linejoin="round"/>
<path d="M96.6 14.6L90.7 19.6L90.9 18.2L96 13.8Z" fill="#f0e4a8"/>
<path d="M83 14.6L90.4 18.6L96.4 13.6" stroke="#b87c10" stroke-width="0.8" fill="none"/>
<path d="M87.6 7.6L86.8 11L83.6 14.4" stroke="#fbe88c" stroke-width="0.9" fill="none"/>
<path d="M112 5.5H120.4L123.3 7.5H115.3Z" fill="#48b4ff"/>
<path d="M112 5.5L115.3 7.5V15H112Z" fill="#0a84f0"/>
<rect x="115.3" y="7.5" width="8" height="7.5" fill="url(#gBox)"/>
<path d="M115.5 15V7.7H123.2" stroke="#d0ecff" stroke-width="0.7" fill="none"/>
<rect x="117.4" y="9.4" width="4.3" height="1.2" fill="#e4f4ff"/>
<path d="M111.9 20.5C109.4 20.5 109.3 16.9 112 16.5C112.2 14.5 114.8 14.2 115.5 15.3C116.2 12.5 120.7 12.6 121.2 15.4C122.7 14.4 125 15.5 124.5 17.2C126.7 17.3 126.6 20.5 124.3 20.5Z" fill="url(#gCloud)" stroke="#4866a8" stroke-width="0.9"/>
<path d="M146 12.9V20.9A8 8 0 0 0 150.6 6.4Z" fill="url(#gSig)" opacity="0.9"/>
<path d="M146 20.5A7.6 7.6 0 1 1 149.80 6.32" fill="none" stroke="#3868d8" stroke-width="0.9" opacity="0.6"/>
<path d="M149.80 6.32A7.6 7.6 0 0 1 146 20.5" fill="none" stroke="#2f7f5f" stroke-width="0.9" opacity="0.45"/>
<path d="M146 18.0A5.1 5.1 0 1 1 148.55 8.48" fill="none" stroke="#3868d8" stroke-width="0.9" opacity="0.55"/>
<path d="M148.55 8.48A5.1 5.1 0 0 1 146 18.0" fill="none" stroke="#2f7f5f" stroke-width="0.9" opacity="0.41"/>
<path d="M146 15.8A2.9 2.9 0 1 1 147.45 10.39" fill="none" stroke="#3868d8" stroke-width="0.9" opacity="0.4"/>
<path d="M147.45 10.39A2.9 2.9 0 0 1 146 15.8" fill="none" stroke="#2f7f5f" stroke-width="0.9" opacity="0.30"/>
<circle cx="146" cy="12.9" r="2" fill="#2858d0"/>
<rect x="146" y="12.9" width="1.6" height="8" fill="#10a010"/>
<path d="M165.4 12.4L181 11.8L176 18.5L172.6 20.6Z" fill="url(#gYel)" stroke="#d0a020" stroke-width="0.9" stroke-linejoin="round"/>
<path d="M165.2 10.6C165.6 8.6 169 8.2 169.8 9C170.2 5.2 176.4 4.6 176.8 8.2C178.6 7.4 181.2 8.2 181 9.6C180.4 11.4 176 12.8 172.4 12.8C168.8 12.8 165 12.2 165.2 10.6Z" fill="url(#gHat)" stroke="#2884b8" stroke-width="0.8"/>
<path d="M169.8 9C171.6 10.6 175.2 10.2 176.8 8.2" stroke="#2884b8" stroke-width="0.7" fill="none"/>
<circle cx="177.6" cy="16.6" r="4.1" fill="url(#gStop)"/>
<rect x="176" y="15.1" width="3.2" height="3.1" fill="#fff"/>
<text x="186.2" y="16.4" font-family="'Liberation Sans', 'Noto Sans CJK SC', sans-serif" font-size="12" fill="#000" stroke="#000" stroke-width="0.19" textLength="48" lengthAdjust="spacingAndGlyphs">自动交易</text>
<rect x="241" y="0" width="1" height="25" fill="#a0a0a0" shape-rendering="crispEdges"/><rect x="242" y="0" width="1" height="25" fill="#fff" shape-rendering="crispEdges"/>
<rect x="245" y="3" width="3" height="1" fill="#a0a0a0" shape-rendering="crispEdges"/>
<rect x="245" y="5" width="3" height="1" fill="#a0a0a0" shape-rendering="crispEdges"/>
<rect x="245" y="7" width="3" height="1" fill="#a0a0a0" shape-rendering="crispEdges"/>
<rect x="245" y="9" width="3" height="1" fill="#a0a0a0" shape-rendering="crispEdges"/>
<rect x="245" y="11" width="3" height="1" fill="#a0a0a0" shape-rendering="crispEdges"/>
<rect x="245" y="13" width="3" height="1" fill="#a0a0a0" shape-rendering="crispEdges"/>
<rect x="245" y="15" width="3" height="1" fill="#a0a0a0" shape-rendering="crispEdges"/>
<rect x="245" y="17" width="3" height="1" fill="#a0a0a0" shape-rendering="crispEdges"/>
<rect x="245" y="19" width="3" height="1" fill="#a0a0a0" shape-rendering="crispEdges"/>
<rect x="245" y="21" width="3" height="1" fill="#a0a0a0" shape-rendering="crispEdges"/>
<g stroke="#5c5c5c" stroke-width="1.1" fill="none"><path d="M259.5 20.6V7.6M257.2 18.6H269.9"/></g>
<path d="M259.5 6.8L257.6 9.6H261.4ZM271.2 18.6L268.5 16.7V20.5Z" fill="#505050"/>
<path d="M265.4 8.2V16.8M265.4 9.6H268M263 15.4H265.4" stroke="#109010" stroke-width="1.4" fill="none"/>
<g shape-rendering="crispEdges"><rect x="279" y="1" width="25" height="22" fill="url(#chk)"/><rect x="279" y="1" width="25" height="1" fill="#a0a0a0"/><rect x="279" y="1" width="1" height="22" fill="#a0a0a0"/><rect x="279" y="22" width="25" height="1" fill="#fff"/><rect x="304" y="1" width="1" height="22" fill="#fff"/></g>
<g stroke="#5c5c5c" stroke-width="1.1" fill="none"><path d="M287.5 20.6V7.6M285.2 18.6H297.9"/></g>
<path d="M287.5 6.8L285.6 9.6H289.4ZM299.2 18.6L296.5 16.7V20.5Z" fill="#505050"/>
<path d="M293.5 5V16.8" stroke="#109010" stroke-width="1.3"/><rect x="291.4" y="7.4" width="4.2" height="7" fill="#3cf05c" stroke="#109010" stroke-width="1"/>
<g stroke="#5c5c5c" stroke-width="1.1" fill="none"><path d="M315.4 20.6V7.6M313.09999999999997 18.6H325.79999999999995"/></g>
<path d="M315.4 6.8L313.5 9.6H317.29999999999995ZM327.09999999999997 18.6L324.4 16.7V20.5Z" fill="#505050"/>
<path d="M314.2 15.7C317 14.5 318.4 10.4 320.3 10.4C322.2 10.4 323.6 13.6 325.8 14" stroke="#2a8a2a" stroke-width="1.3" fill="none"/>
<rect x="336" y="2" width="1" height="21" fill="#a0a0a0" shape-rendering="crispEdges"/>
<path d="M354.8 14.6L360 19.8" stroke="#a87808" stroke-width="4" stroke-linecap="butt"/>
<path d="M355.2 15L359.6 19.4" stroke="#f4dc50" stroke-width="2.2" stroke-linecap="butt"/>
<circle cx="351" cy="10.9" r="5.5" fill="url(#gLens)" stroke="#2c7cc8" stroke-width="1.2"/>
<rect x="347.5" y="9.9" width="7" height="2" fill="#428eb8"/>
<rect x="350" y="7.4" width="2" height="7" fill="#428eb8"/>
<path d="M382.8 14.6L388 19.8" stroke="#a87808" stroke-width="4" stroke-linecap="butt"/>
<path d="M383.2 15L387.6 19.4" stroke="#f4dc50" stroke-width="2.2" stroke-linecap="butt"/>
<circle cx="379" cy="10.9" r="5.5" fill="url(#gLens)" stroke="#2c7cc8" stroke-width="1.2"/>
<rect x="375.5" y="9.9" width="7" height="2" fill="#428eb8"/>
<rect x="401" y="5" width="8" height="8" fill="#34a418"/>
<rect x="402.3" y="8.2" width="5.4" height="3.6" fill="#fff"/>
<rect x="403.3" y="9.2" width="3.4" height="0.9" fill="#9cd880"/>
<rect x="402.2" y="6.1" width="1" height="1" fill="#fff" opacity="0.8"/>
<rect x="403.9" y="11.1" width="2.3" height="0.8" fill="#34a418"/>
<rect x="401" y="5" width="8" height="2.4" fill="#fff" opacity="0.12"/>
<rect x="409" y="5" width="8" height="8" fill="#1444d0"/>
<rect x="410.3" y="8.2" width="5.4" height="3.6" fill="#fff"/>
<rect x="411.3" y="9.2" width="3.4" height="0.9" fill="#90a8f0"/>
<rect x="410.2" y="6.1" width="1" height="1" fill="#fff" opacity="0.8"/>
<rect x="411.9" y="11.1" width="2.3" height="0.8" fill="#1444d0"/>
<rect x="409" y="5" width="8" height="2.4" fill="#fff" opacity="0.12"/>
<rect x="401" y="13" width="8" height="8" fill="#1444d0"/>
<rect x="402.3" y="16.2" width="5.4" height="3.6" fill="#fff"/>
<rect x="403.3" y="17.2" width="3.4" height="0.9" fill="#90a8f0"/>
<rect x="402.2" y="14.1" width="1" height="1" fill="#fff" opacity="0.8"/>
<rect x="403.9" y="19.1" width="2.3" height="0.8" fill="#1444d0"/>
<rect x="401" y="13" width="8" height="2.4" fill="#fff" opacity="0.12"/>
<rect x="409" y="13" width="8" height="8" fill="#34a418"/>
<rect x="410.3" y="16.2" width="5.4" height="3.6" fill="#fff"/>
<rect x="411.3" y="17.2" width="3.4" height="0.9" fill="#9cd880"/>
<rect x="410.2" y="14.1" width="1" height="1" fill="#fff" opacity="0.8"/>
<rect x="411.9" y="19.1" width="2.3" height="0.8" fill="#34a418"/>
<rect x="409" y="13" width="8" height="2.4" fill="#fff" opacity="0.12"/>
<rect x="426" y="2" width="1" height="21" fill="#a0a0a0" shape-rendering="crispEdges"/>
<g shape-rendering="crispEdges"><rect x="431" y="1" width="25" height="22" fill="url(#chk)"/><rect x="431" y="1" width="25" height="1" fill="#a0a0a0"/><rect x="431" y="1" width="1" height="22" fill="#a0a0a0"/><rect x="431" y="22" width="25" height="1" fill="#fff"/><rect x="456" y="1" width="1" height="22" fill="#fff"/></g>
<g stroke="#5c5c5c" stroke-width="1.1" fill="none"><path d="M439.4 20.6V7.6M437.09999999999997 18.6H449.79999999999995"/></g>
<path d="M439.4 6.8L437.5 9.6H441.29999999999995ZM451.09999999999997 18.6L448.4 16.7V20.5Z" fill="#505050"/>
<path d="M444.2 9V16L448 12.5Z" fill="#78e878" stroke="#10a010" stroke-width="1.1" stroke-linejoin="round"/>
<g shape-rendering="crispEdges"><rect x="459" y="1" width="25" height="22" fill="url(#chk)"/><rect x="459" y="1" width="25" height="1" fill="#a0a0a0"/><rect x="459" y="1" width="1" height="22" fill="#a0a0a0"/><rect x="459" y="22" width="25" height="1" fill="#fff"/><rect x="484" y="1" width="1" height="22" fill="#fff"/></g>
<g stroke="#5c5c5c" stroke-width="1.1" fill="none"><path d="M467.5 20.6V7.6M465.2 18.6H477.9"/></g>
<path d="M467.5 6.8L465.6 9.6H469.4ZM479.2 18.6L476.5 16.7V20.5Z" fill="#505050"/>
<path d="M473.5 6.9V16.8" stroke="#1070b0" stroke-width="1.4"/>
<path d="M474.3 12.5L477 10.2L476.4 12H479V13H476.4L477 14.8Z" fill="#e04800" stroke="#e04800" stroke-width="0.5"/>
<rect x="488" y="2" width="1" height="21" fill="#a0a0a0" shape-rendering="crispEdges"/>
<path d="M498.6 5.5H506.6L510 8.9V18.2H498.6Z" fill="#fff" stroke="#888" stroke-width="1"/>
<path d="M506.6 5.5V8.9H510" fill="#e8e8e8" stroke="#888" stroke-width="0.9"/>
<text x="500.4" y="15" font-family="'Liberation Serif', serif" font-style="italic" font-size="10" fill="#5a4a20">f</text>
<path d="M506.5 11.9H509.5V15.8H513.5V18.8H509.5V22.4H506.5V18.8H502.5V15.8H506.5Z" fill="url(#gPlus)" stroke="#0a8a14" stroke-width="1"/>
<path d="M519.4 11.9H525.6L522.5 15.4Z" fill="#000"/>
<circle cx="544.1" cy="12.8" r="6.5" fill="#eef1f6" stroke="url(#gClock)" stroke-width="2.9"/>
<path d="M543.6 9.2V13.2L546.6 13.8" stroke="#222" stroke-width="1.2" fill="none"/>
<path d="M544.1 8.2V8.9M544.1 16.7V17.4M539.5 12.8H540.2M548 12.8H548.7M541 9.7L541.4 10.1M547.2 9.7L546.8 10.1M541 15.9L541.4 15.5M547.2 15.9L546.8 15.5" stroke="#666" stroke-width="0.7"/>
<path d="M558.4 11.9H564.6L561.5 15.4Z" fill="#000"/>
<rect x="575.5" y="6.5" width="15.4" height="13" fill="#fff" stroke="#2f6cc0" stroke-width="1"/>
<rect x="575" y="6" width="16.4" height="2.6" fill="#3c80d8"/>
<rect x="576.4" y="6.8" width="6" height="0.8" fill="#a8d0ff"/>
<path d="M576 13.9H591" stroke="#2f6cc0" stroke-width="1"/>
<path d="M577.6 12.2H579L581.4 10.4H583L584.6 11.6H586.4L588.4 10.4H589.6" stroke="#a02808" stroke-width="1.2" fill="none"/>
<path d="M578 17.4H579.4L581.4 16.2L583 17.4H584.2L586.4 15.3L588.6 17.4" stroke="#108820" stroke-width="1.2" fill="none"/>
<path d="M597.4 11.9H603.6L600.5 15.4Z" fill="#000"/>
<rect x="609" y="0" width="1" height="25" fill="#a0a0a0" shape-rendering="crispEdges"/><rect x="610" y="0" width="1" height="25" fill="#fff" shape-rendering="crispEdges"/>
<rect x="613" y="3" width="3" height="1" fill="#a0a0a0" shape-rendering="crispEdges"/>
<rect x="613" y="5" width="3" height="1" fill="#a0a0a0" shape-rendering="crispEdges"/>
<rect x="613" y="7" width="3" height="1" fill="#a0a0a0" shape-rendering="crispEdges"/>
<rect x="613" y="9" width="3" height="1" fill="#a0a0a0" shape-rendering="crispEdges"/>
<rect x="613" y="11" width="3" height="1" fill="#a0a0a0" shape-rendering="crispEdges"/>
<rect x="613" y="13" width="3" height="1" fill="#a0a0a0" shape-rendering="crispEdges"/>
<rect x="613" y="15" width="3" height="1" fill="#a0a0a0" shape-rendering="crispEdges"/>
<rect x="613" y="17" width="3" height="1" fill="#a0a0a0" shape-rendering="crispEdges"/>
<rect x="613" y="19" width="3" height="1" fill="#a0a0a0" shape-rendering="crispEdges"/>
<rect x="613" y="21" width="3" height="1" fill="#a0a0a0" shape-rendering="crispEdges"/>
<g shape-rendering="crispEdges"><rect x="619" y="1" width="25" height="22" fill="url(#chk)"/><rect x="619" y="1" width="25" height="1" fill="#a0a0a0"/><rect x="619" y="1" width="1" height="22" fill="#a0a0a0"/><rect x="619" y="22" width="25" height="1" fill="#fff"/><rect x="644" y="1" width="1" height="22" fill="#fff"/></g>
<path d="M627.3 5.9V17.2L629.6 14.9L632 20.3L633.8 19.5L631.5 14.1L635 13.6Z" fill="#505050"/>
<path d="M659.5 6.1V12M659.5 15.2V21M652 13.6H657.9M661.1 13.6H667" stroke="#505050" stroke-width="1.3"/><rect x="659" y="13.1" width="1" height="1" fill="#505050"/>
<rect x="676" y="2" width="1" height="21" fill="#a0a0a0" shape-rendering="crispEdges"/>
<path d="M693.5 6.9V19.9" stroke="#505050" stroke-width="1.4"/>
<path d="M716 13.4H728" stroke="#505050" stroke-width="1.4"/>
<path d="M744 19.9L756 7.7" stroke="#505050" stroke-width="1.3"/>
<g stroke="#505050" stroke-width="1.15" fill="none"><path d="M769.6 14.7L777.8 7.1M770.8 18.9L784.2 6.4M775 19.9L784.6 11.1"/><path d="M772.4 11.2L773.6 18.2M775.3 8.6L776.4 16.2M778.2 7.4L779.2 14M781.4 5L782.4 11.8" stroke-width="1.05"/></g>
<text x="780.8" y="21.8" font-family="'Liberation Sans', sans-serif" font-weight="bold" font-size="6.8" fill="#303030">E</text>
<rect x="799" y="6" width="1" height="1" fill="#505050" shape-rendering="crispEdges"/>
<rect x="801" y="6" width="1" height="1" fill="#505050" shape-rendering="crispEdges"/>
<rect x="803" y="6" width="1" height="1" fill="#505050" shape-rendering="crispEdges"/>
<rect x="805" y="6" width="1" height="1" fill="#505050" shape-rendering="crispEdges"/>
<rect x="807" y="6" width="1" height="1" fill="#505050" shape-rendering="crispEdges"/>
<rect x="809" y="6" width="1" height="1" fill="#505050" shape-rendering="crispEdges"/>
<rect x="811" y="6" width="1" height="1" fill="#505050" shape-rendering="crispEdges"/>
<rect x="799" y="9" width="1" height="1" fill="#505050" shape-rendering="crispEdges"/>
<rect x="801" y="9" width="1" height="1" fill="#505050" shape-rendering="crispEdges"/>
<rect x="803" y="9" width="1" height="1" fill="#505050" shape-rendering="crispEdges"/>
<rect x="805" y="9" width="1" height="1" fill="#505050" shape-rendering="crispEdges"/>
<rect x="807" y="9" width="1" height="1" fill="#505050" shape-rendering="crispEdges"/>
<rect x="809" y="9" width="1" height="1" fill="#505050" shape-rendering="crispEdges"/>
<rect x="811" y="9" width="1" height="1" fill="#505050" shape-rendering="crispEdges"/>
<rect x="799" y="13" width="1" height="1" fill="#505050" shape-rendering="crispEdges"/>
<rect x="801" y="13" width="1" height="1" fill="#505050" shape-rendering="crispEdges"/>
<rect x="803" y="13" width="1" height="1" fill="#505050" shape-rendering="crispEdges"/>
<rect x="805" y="13" width="1" height="1" fill="#505050" shape-rendering="crispEdges"/>
<rect x="807" y="13" width="1" height="1" fill="#505050" shape-rendering="crispEdges"/>
<rect x="809" y="13" width="1" height="1" fill="#505050" shape-rendering="crispEdges"/>
<rect x="811" y="13" width="1" height="1" fill="#505050" shape-rendering="crispEdges"/>
<rect x="799" y="17" width="1" height="1" fill="#505050" shape-rendering="crispEdges"/>
<rect x="801" y="17" width="1" height="1" fill="#505050" shape-rendering="crispEdges"/>
<rect x="803" y="17" width="1" height="1" fill="#505050" shape-rendering="crispEdges"/>
<rect x="805" y="17" width="1" height="1" fill="#505050" shape-rendering="crispEdges"/>
<rect x="807" y="17" width="1" height="1" fill="#505050" shape-rendering="crispEdges"/>
<text x="808.8" y="21.8" font-family="'Liberation Sans', sans-serif" font-weight="bold" font-size="6.8" fill="#303030">F</text>
<text x="829.4" y="18.1" font-family="'Liberation Sans', sans-serif" font-weight="bold" font-size="12.6" fill="#505050" textLength="8.4" lengthAdjust="spacingAndGlyphs">A</text>
<rect x="857" y="7" width="1" height="1" fill="#505050" shape-rendering="crispEdges"/><rect x="857" y="19" width="1" height="1" fill="#505050" shape-rendering="crispEdges"/>
<rect x="859" y="7" width="1" height="1" fill="#505050" shape-rendering="crispEdges"/><rect x="859" y="19" width="1" height="1" fill="#505050" shape-rendering="crispEdges"/>
<rect x="861" y="7" width="1" height="1" fill="#505050" shape-rendering="crispEdges"/><rect x="861" y="19" width="1" height="1" fill="#505050" shape-rendering="crispEdges"/>
<rect x="863" y="7" width="1" height="1" fill="#505050" shape-rendering="crispEdges"/><rect x="863" y="19" width="1" height="1" fill="#505050" shape-rendering="crispEdges"/>
<rect x="865" y="7" width="1" height="1" fill="#505050" shape-rendering="crispEdges"/><rect x="865" y="19" width="1" height="1" fill="#505050" shape-rendering="crispEdges"/>
<rect x="867" y="7" width="1" height="1" fill="#505050" shape-rendering="crispEdges"/><rect x="867" y="19" width="1" height="1" fill="#505050" shape-rendering="crispEdges"/>
<rect x="856" y="9" width="1" height="1" fill="#505050" shape-rendering="crispEdges"/><rect x="867" y="9" width="1" height="1" fill="#505050" shape-rendering="crispEdges"/>
<rect x="856" y="11" width="1" height="1" fill="#505050" shape-rendering="crispEdges"/><rect x="867" y="11" width="1" height="1" fill="#505050" shape-rendering="crispEdges"/>
<rect x="856" y="13" width="1" height="1" fill="#505050" shape-rendering="crispEdges"/><rect x="867" y="13" width="1" height="1" fill="#505050" shape-rendering="crispEdges"/>
<rect x="856" y="15" width="1" height="1" fill="#505050" shape-rendering="crispEdges"/><rect x="867" y="15" width="1" height="1" fill="#505050" shape-rendering="crispEdges"/>
<rect x="856" y="17" width="1" height="1" fill="#505050" shape-rendering="crispEdges"/><rect x="867" y="17" width="1" height="1" fill="#505050" shape-rendering="crispEdges"/>
<rect x="855" y="6" width="2" height="1.4" fill="#505050"/>
<path d="M858.6 10.6H865.6M862.1 10.6V17.8" stroke="#505050" stroke-width="1.7" fill="none"/>
<path d="M882.4 11.5L886.5 6.8L890.6 11.5ZM889.8 15.7L893.7 20.3L897.6 15.7Z" fill="#505050"/>
<path d="M885.4 14.6L887.4 16.6L891.8 11.4" stroke="#505050" stroke-width="1.4" fill="none"/>
<path d="M903.4 11.9H909.6L906.5 15.4Z" fill="#000"/>
<rect x="915" y="0" width="1" height="25" fill="#a0a0a0" shape-rendering="crispEdges"/><rect x="916" y="0" width="1" height="25" fill="#fff" shape-rendering="crispEdges"/>
<rect x="919" y="3" width="3" height="1" fill="#a0a0a0" shape-rendering="crispEdges"/>
<rect x="919" y="5" width="3" height="1" fill="#a0a0a0" shape-rendering="crispEdges"/>
<rect x="919" y="7" width="3" height="1" fill="#a0a0a0" shape-rendering="crispEdges"/>
<rect x="919" y="9" width="3" height="1" fill="#a0a0a0" shape-rendering="crispEdges"/>
<rect x="919" y="11" width="3" height="1" fill="#a0a0a0" shape-rendering="crispEdges"/>
<rect x="919" y="13" width="3" height="1" fill="#a0a0a0" shape-rendering="crispEdges"/>
<rect x="919" y="15" width="3" height="1" fill="#a0a0a0" shape-rendering="crispEdges"/>
<rect x="919" y="17" width="3" height="1" fill="#a0a0a0" shape-rendering="crispEdges"/>
<rect x="919" y="19" width="3" height="1" fill="#a0a0a0" shape-rendering="crispEdges"/>
<rect x="919" y="21" width="3" height="1" fill="#a0a0a0" shape-rendering="crispEdges"/>
<g shape-rendering="crispEdges"><rect x="1065" y="1" width="25" height="22" fill="url(#chk)"/><rect x="1065" y="1" width="25" height="1" fill="#a0a0a0"/><rect x="1065" y="1" width="1" height="22" fill="#a0a0a0"/><rect x="1065" y="22" width="25" height="1" fill="#fff"/><rect x="1090" y="1" width="1" height="22" fill="#fff"/></g>
<g font-family="'Liberation Sans', sans-serif" font-size="10.2" fill="#3c3c3c">
<text x="930.8" y="17" textLength="12.3" lengthAdjust="spacingAndGlyphs">M1</text>
<text x="958.6" y="17" textLength="12.6" lengthAdjust="spacingAndGlyphs">M5</text>
<text x="985" y="17" textLength="17.4" lengthAdjust="spacingAndGlyphs">M15</text>
<text x="1012.8" y="17" textLength="17.4" lengthAdjust="spacingAndGlyphs">M30</text>
<text x="1044" y="17" textLength="11.7" lengthAdjust="spacingAndGlyphs">H1</text>
<text x="1071.2" y="17" textLength="11.9" lengthAdjust="spacingAndGlyphs">H4</text>
<text x="1099.8" y="17" textLength="11.7" lengthAdjust="spacingAndGlyphs">D1</text>
<text x="1126.4" y="17" textLength="15.1" lengthAdjust="spacingAndGlyphs">W1</text>
<text x="1154.2" y="17" textLength="13.6" lengthAdjust="spacingAndGlyphs">MN</text>
</g>
<rect x="1176" y="0" width="1" height="25" fill="#a0a0a0" shape-rendering="crispEdges"/><rect x="1177" y="0" width="1" height="25" fill="#fff" shape-rendering="crispEdges"/>
<path d="M1643.2 13.9L1638.8 18" stroke="#2a5cd8" stroke-width="2.4"/>
<circle cx="1646.4" cy="10.6" r="3.9" fill="#f4f6ff" stroke="#2454d4" stroke-width="1.5"/>
<path d="M1663.6 14.6C1663.6 9.6 1674.6 9.6 1674.6 14.6C1674.6 18.6 1669.6 19.2 1667.8 18.8L1666 21.4L1665.8 18.2C1664.4 17.4 1663.6 16.2 1663.6 14.6Z" fill="#dcdce6" stroke="#a8a8b0" stroke-width="0.9"/>
<circle cx="1677.5" cy="10.4" r="8.4" fill="url(#gRed)"/>
<text x="1673.2" y="14.9" font-family="'Liberation Sans', sans-serif" font-weight="bold" font-size="12.4" fill="#fff">1</text>
</g>
</svg>
</body></html>
